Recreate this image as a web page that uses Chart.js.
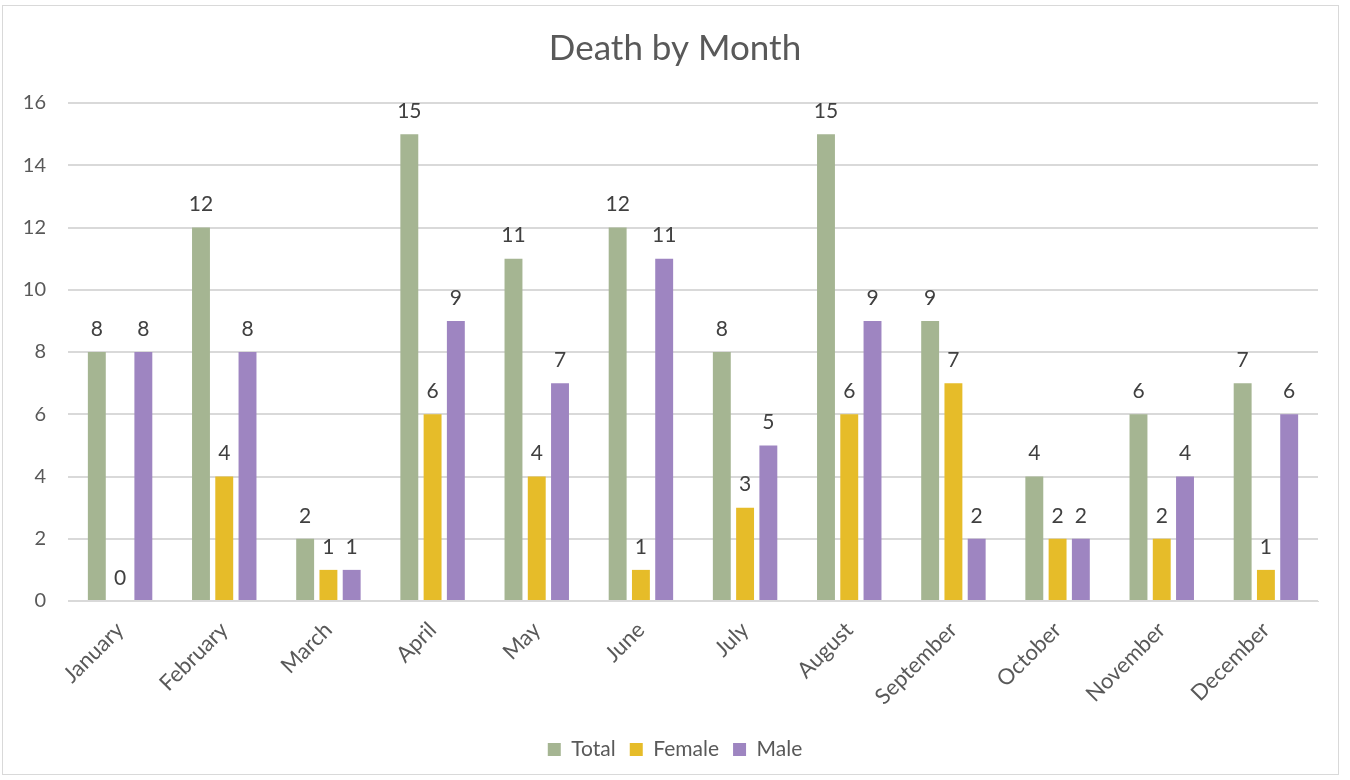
<!DOCTYPE html>
<html>
<head>
<meta charset="utf-8">
<script src="https://cdn.jsdelivr.net/npm/chart.js@4/dist/chart.umd.min.js"></script>
<style>
    html, body { margin: 0; padding: 0; background: #fff; }
    .frame {
        position: absolute; left: 2px; top: 5px; width: 1337px; height: 770px;
        border: 1px solid #d9d9d9; box-sizing: border-box;
    }
    .wrap { position: absolute; left: 0; top: 0; width: 1350px; height: 780px; }
</style>
</head>
<body>
<div class="frame"></div>
<div class="wrap"><canvas id="chart"></canvas></div>
<script>
// 数据
const months = ['January', 'February', 'March', 'April', 'May', 'June',
    'July', 'August', 'September', 'October', 'November', 'December'];
const totalDeaths = [8, 12, 2, 15, 11, 12, 8, 15, 9, 4, 6, 7];
const femaleDeaths = [0, 4, 1, 6, 4, 1, 3, 6, 7, 2, 2, 1];
const maleDeaths = [8, 8, 1, 9, 7, 11, 5, 9, 2, 2, 4, 6];

const fontFamily = 'Lato, "Open Sans", sans-serif';

// 柱顶数值标签
const valueLabels = {
    id: 'valueLabels',
    afterDatasetsDraw(chart) {
        const ctx = chart.ctx;
        ctx.save();
        ctx.font = '21px ' + fontFamily;
        ctx.fillStyle = '#404040';
        ctx.textAlign = 'center';
        ctx.textBaseline = 'middle';
        chart.data.datasets.forEach((ds, i) => {
            chart.getDatasetMeta(i).data.forEach((bar, j) => {
                ctx.fillText(ds.data[j], bar.x, bar.y - 23);
            });
        });
        ctx.restore();
    }
};

new Chart(document.getElementById('chart'), {
    type: 'bar',
    data: {
        labels: months,
        datasets: [
            { label: 'Total', data: totalDeaths, backgroundColor: '#a5b592' },
            { label: 'Female', data: femaleDeaths, backgroundColor: '#e6bc29' },
            { label: 'Male', data: maleDeaths, backgroundColor: '#9e85c1' }
        ]
    },
    options: {
        responsive: true,
        maintainAspectRatio: false,
        animation: false,
        categoryPercentage: 0.67,
        barPercentage: 0.77,
        layout: { padding: { left: 10, right: 10, top: 0, bottom: 10 } },
        plugins: {
            title: {
                display: true,
                text: 'Death by Month',
                color: '#595959',
                font: { family: fontFamily, size: 35, weight: 'normal' },
                padding: { top: 28, bottom: 33 }
            },
            legend: {
                position: 'bottom',
                labels: {
                    color: '#595959',
                    font: { family: fontFamily, size: 21 },
                    boxWidth: 13,
                    boxHeight: 13,
                    padding: 14
                }
            },
            tooltip: { enabled: false }
        },
        scales: {
            x: {
                afterFit: scale => { scale.height = 124; },
                grid: { display: false },
                border: { color: '#d9d9d9' },
                ticks: {
                    color: '#595959',
                    font: { family: fontFamily, size: 22 },
                    minRotation: 45,
                    maxRotation: 45,
                    padding: 8
                }
            },
            y: {
                min: 0,
                max: 16,
                afterFit: scale => { scale.width = 58; },
                grid: { color: '#d9d9d9', lineWidth: 2, drawTicks: false },
                border: { display: false },
                ticks: {
                    stepSize: 2,
                    color: '#595959',
                    font: { family: fontFamily, size: 20 },
                    padding: 22
                }
            },
            // 右侧留白
            yRight: {
                position: 'right',
                afterFit: scale => { scale.width = 22; },
                grid: { display: false },
                border: { display: false },
                ticks: { display: false }
            }
        }
    },
    plugins: [valueLabels]
});
</script>
</body>
</html>
